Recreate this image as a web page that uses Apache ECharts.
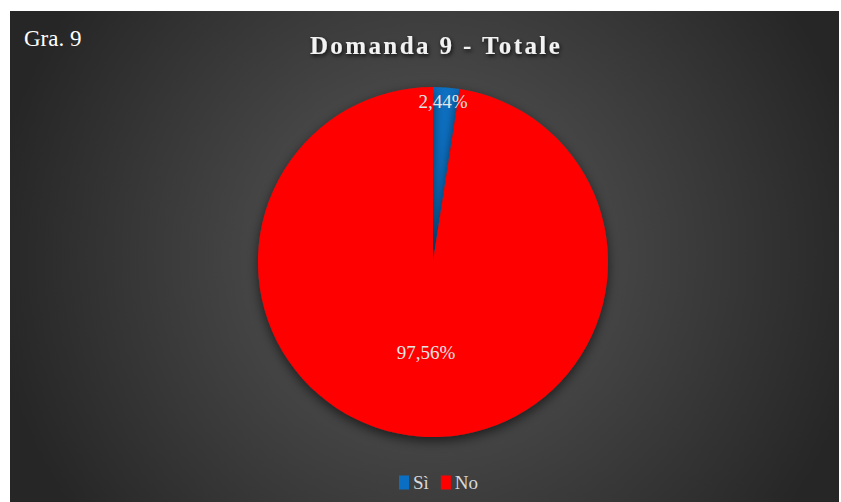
<!DOCTYPE html>
<html>
<head>
<meta charset="utf-8">
<script src="https://cdn.jsdelivr.net/npm/echarts@6/dist/echarts.min.js"></script>
<style>
  html, body { margin: 0; padding: 0; background: #ffffff; }
  #chart { position: absolute; left: 10px; top: 11px; width: 829px; height: 491px; }
  /* tracked-out heading */
  #chart text[style*="bold"] { letter-spacing: 2.4px; }
</style>
</head>
<body>
<div id="chart"></div>
<script>
// Answers to question 9, as shares of the total
const categories = ['Sì', 'No'];
const shares = [2.44, 97.56];
const sliceColors = ['#0a6fc2', '#ff0000'];

const serif = '"Liberation Serif", "Times New Roman", serif';

const pieData = categories.map((name, i) => ({
  name: name,
  value: shares[i],
  itemStyle: { color: sliceColors[i] }
}));

const chart = echarts.init(document.getElementById('chart'), null, { renderer: 'svg' });

chart.setOption({
  backgroundColor: {
    type: 'radial', x: 420, y: 245, r: 440, global: true,
    colorStops: [
      { offset: 0, color: '#5a5a5a' },
      { offset: 1, color: '#262626' }
    ]
  },
  title: [
    {
      text: 'Gra. 9',
      left: 9, top: 11,
      textStyle: { fontFamily: serif, fontSize: 23, fontWeight: 'normal', color: '#ffffff' }
    },
    {
      text: 'Domanda 9 - Totale',
      left: 421, top: 17, textAlign: 'center',
      textStyle: {
        fontFamily: serif, fontSize: 25, fontWeight: 'bold', color: '#f2f2f2',
        textShadowColor: 'rgba(0,0,0,0.85)', textShadowBlur: 4, textShadowOffsetX: 1, textShadowOffsetY: 2
      }
    }
  ],
  legend: {
    data: categories,
    left: 384, top: 457,
    icon: 'rect', itemWidth: 10, itemHeight: 14, itemGap: 12,
    textStyle: { fontFamily: serif, fontSize: 19, color: '#d9d9d9', padding: [0, 0, 0, -1] }
  },
  series: [{
    type: 'pie',
    center: [423, 251],
    radius: 175,
    startAngle: 90,
    clockwise: true,
    silent: true,
    data: pieData,
    itemStyle: {
      borderWidth: 0,
      shadowColor: 'rgba(0,0,0,0.6)', shadowBlur: 12, shadowOffsetY: 4
    },
    label: {
      show: true,
      position: 'inside',
      formatter: p => p.value.toFixed(2).replace('.', ',') + '%',
      fontFamily: serif, fontSize: 19, color: '#e6e6e6'
    },
    labelLine: { show: false },
    labelLayout: p => (p.dataIndex === 0 ? { dy: -70, dx: 3 } : {})
  }]
});
</script>
</body>
</html>
